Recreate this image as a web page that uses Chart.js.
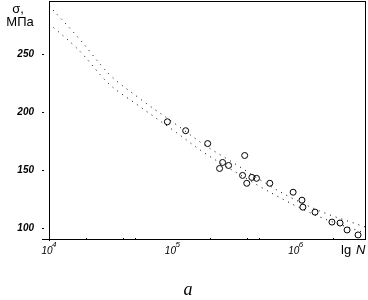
<!DOCTYPE html>
<html><head><meta charset="utf-8">
<script src="https://cdn.jsdelivr.net/npm/chart.js@4/dist/chart.umd.min.js"></script>
<style>html,body{margin:0;padding:0;background:#fff;}#wrap{position:relative;width:368px;height:300px;}</style>
</head><body><div id="wrap"><canvas id="c" width="368" height="300"></canvas></div>
<script>
// Cycles N and stress (MPa) of test specimens (circles)
const pointN =     [9.1e4, 1.28e5, 1.93e5, 3.85e5, 2.55e5, 2.85e5, 2.41e5, 3.7e5, 4.0e5, 4.4e5, 4.8e5, 6.15e5, 9.5e5, 1.12e6, 1.14e6, 1.43e6, 1.96e6, 2.28e6, 2.6e6, 3.19e6];
const pointSigma = [191.7, 184.0, 172.9, 162.6, 156.6, 154.0, 151.4, 145.4, 138.6, 143.7, 142.9, 138.6, 130.9, 124.0, 118.0, 113.7, 105.1, 104.3, 98.3, 94.0];
// Dotted band curves
const bandN =      [1e4, 1.75e4, 3.07e4, 5.09e4, 1.08e5, 1.75e5, 3.08e5, 7.83e5, 1.57e6, 3.64e6];
const upperSigma = [292.0, 263.7, 232.9, 214.0, 189.1, 172.9, 156.6, 130.0, 114.6, 100.9];
const lowerSigma = [276.6, 253.4, 224.3, 207.1, 182.3, 166.0, 149.7, 124.9, 109.4, 95.7];
// Axis ticks
const yTicks = [100, 150, 200, 250];
const xMajor = [1e4, 1e5, 1e6];
const xMinor = [2e4, 4e4, 5e4, 2e5, 4e5, 5e5, 2e6];

const toXY = (xs, ys) => xs.map((x, i) => ({x: x, y: ys[i]}));

const deco = {
  id: 'deco',
  afterDraw(chart) {
    const ctx = chart.ctx, a = chart.chartArea;
    const xs = chart.scales.x, ys = chart.scales.y;
    const L = Math.round(a.left), T = Math.round(a.top), R = Math.round(a.right), B = Math.round(a.bottom);
    ctx.save();
    ctx.setLineDash([]);
    ctx.fillStyle = '#000';
    ctx.fillRect(L, T, 1, B - T + 2);          // left axis
    ctx.fillRect(L - 7, B, R - L + 7, 1);      // bottom axis
    ctx.fillRect(L, T, R - L, 1);              // top frame
    ctx.fillRect(R - 1, T, 1, B - T);          // right frame
    ctx.font = 'italic bold 10px "Liberation Sans", Arial, sans-serif';
    ctx.textAlign = 'right';
    ctx.textBaseline = 'middle';
    yTicks.forEach(v => {
      const py = Math.round(ys.getPixelForValue(v));
      ctx.fillRect(L - 7, py, 2, 1);
      ctx.fillText(String(v), L - 15, py + 0.5);
    });
    xMinor.forEach(v => {
      const px = Math.round(xs.getPixelForValue(v));
      ctx.fillRect(px, B - 1, 1, 1);
    });
    xMajor.forEach(v => {
      const px = xs.getPixelForValue(v);
      const e = Math.round(Math.log10(v));
      ctx.textAlign = 'center';
      ctx.font = 'italic 10px "Liberation Sans", Arial, sans-serif';
      ctx.fillText('10', px - 2, B + 12);
      ctx.font = 'italic 8px "Liberation Sans", Arial, sans-serif';
      ctx.textAlign = 'left';
      ctx.fillText(String(e), px + 3, B + 6);
    });
    ctx.textAlign = 'left';
    ctx.font = '13px "Liberation Sans", Arial, sans-serif';
    ctx.fillText('lg ', 341, B + 11);
    ctx.font = 'italic 13px "Liberation Sans", Arial, sans-serif';
    ctx.fillText('N', 356, B + 11);
    ctx.font = '13px "Liberation Sans", Arial, sans-serif';
    ctx.textAlign = 'center';
    ctx.fillText('σ,', 18, 9);
    ctx.fillText('МПа', 20, 22);
    ctx.font = 'italic 18px "Liberation Serif", "Times New Roman", serif';
    ctx.fillText('a', 188, 290);
    ctx.restore();
  }
};

new Chart(document.getElementById('c'), {
  type: 'scatter',
  data: {
    datasets: [
      {data: toXY(pointN, pointSigma), pointStyle: 'circle', pointRadius: 3, borderColor: '#000', borderWidth: 1, backgroundColor: 'rgba(0,0,0,0)', showLine: false},
      {data: toXY(bandN, upperSigma), showLine: true, cubicInterpolationMode: 'monotone', borderColor: '#000', borderWidth: 1, borderDash: [1, 5], pointRadius: 0, fill: false},
      {data: toXY(bandN, lowerSigma), showLine: true, cubicInterpolationMode: 'monotone', borderColor: '#000', borderWidth: 1, borderDash: [1, 5], pointRadius: 0, fill: false}
    ]
  },
  options: {
    responsive: false,
    animation: false,
    devicePixelRatio: 1,
    layout: {padding: {top: 1, right: 2, left: 0, bottom: 0}, autoPadding: false},
    plugins: {legend: {display: false}, tooltip: {enabled: false}},
    scales: {
      x: {type: 'logarithmic', min: 1e4, max: 3.7e6,
          grid: {display: false}, border: {display: false},
          ticks: {display: false},
          afterFit(s) { s.height = 61; s.paddingLeft = 0; s.paddingRight = 0; }},
      y: {type: 'linear', min: 90.5, max: 296,
          grid: {display: false}, border: {display: false},
          ticks: {display: false},
          afterFit(s) { s.width = 49; s.paddingTop = 0; s.paddingBottom = 0; }}
    }
  },
  plugins: [deco]
});
</script></body></html>
